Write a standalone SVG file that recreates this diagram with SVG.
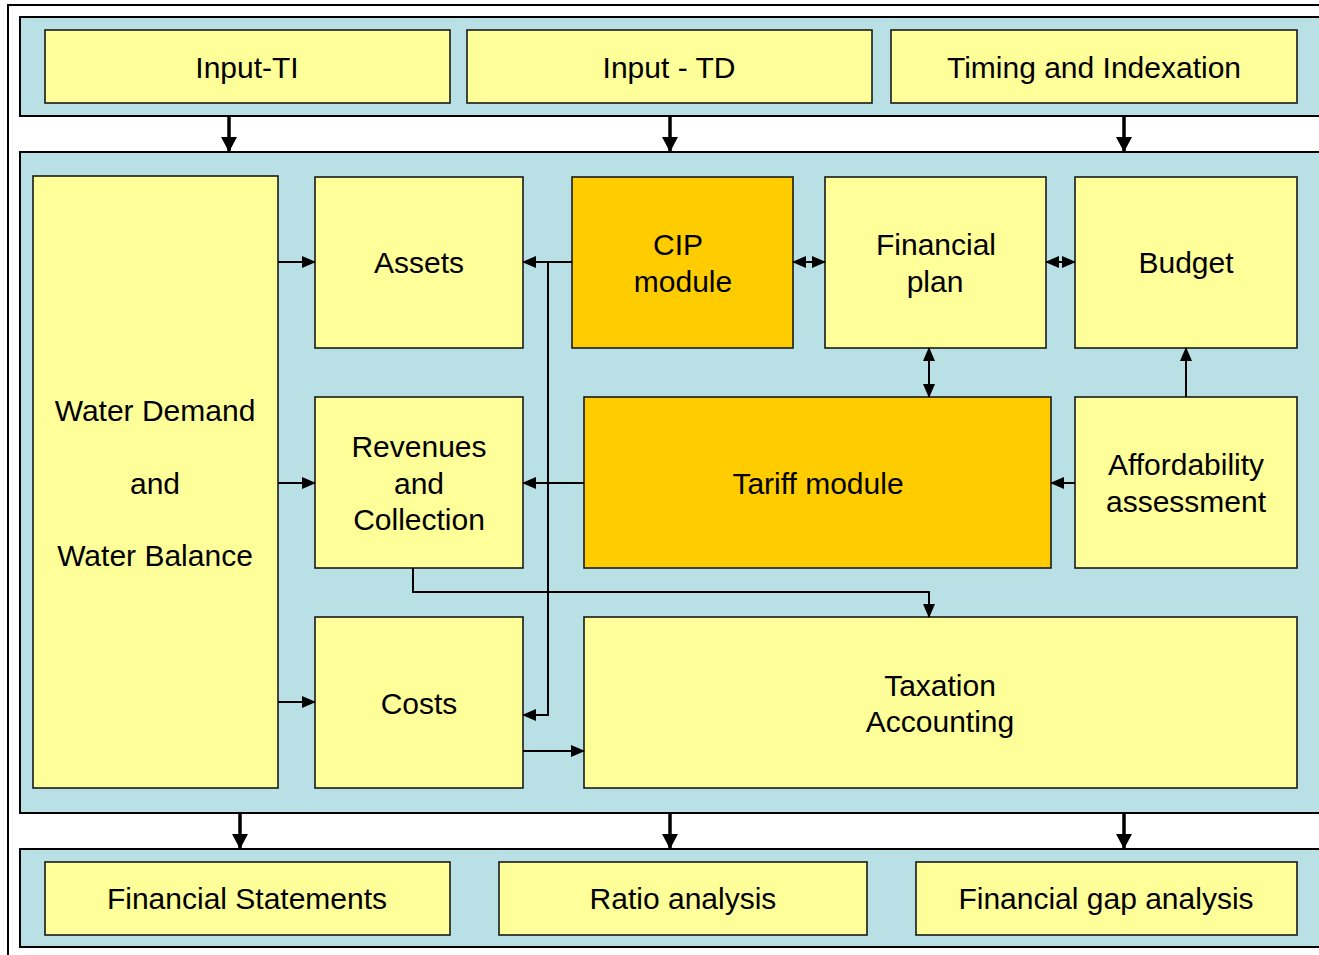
<svg xmlns="http://www.w3.org/2000/svg" width="1319" height="955" viewBox="0 0 1319 955">
<defs>
<style>
.panel{fill:#B9E0E4;stroke:#000;stroke-width:2}
.box{fill:#FFFF99;stroke:#1a1a1a;stroke-width:1.6}
.hot{fill:#FFCC00;stroke:#1a1a1a;stroke-width:1.6}
text{font-family:"Liberation Sans",Arial,sans-serif;font-size:30px;fill:#000;text-anchor:middle}
.c{fill:none;stroke:#000;stroke-width:2}
.big{fill:none;stroke:#000;stroke-width:3.5}
</style>
<marker id="ah" markerUnits="userSpaceOnUse" markerWidth="14" markerHeight="12" refX="13" refY="6" orient="auto-start-reverse" viewBox="0 0 14 12">
<path d="M0,0 L14,6 L0,12 Z" fill="#000"/>
</marker>
<marker id="bh" markerUnits="userSpaceOnUse" markerWidth="15" markerHeight="16" refX="15" refY="8" orient="auto" viewBox="0 0 15 16">
<path d="M0,0 L15,8 L0,16 Z" fill="#000"/>
</marker>
</defs>
<rect x="8" y="5" width="1330" height="970" fill="#fff" stroke="#000" stroke-width="2"/>
<rect class="panel" x="20" y="17" width="1320" height="99"/>
<rect class="panel" x="20" y="152" width="1320" height="661"/>
<rect class="panel" x="20" y="849" width="1320" height="98"/>

<g id="input-ti"><rect class="box" x="45" y="30" width="405" height="73"/><text x="247" y="78">Input-TI</text></g>
<g id="input-td"><rect class="box" x="467" y="30" width="405" height="73"/><text x="669" y="78">Input - TD</text></g>
<g id="timing"><rect class="box" x="891" y="30" width="406" height="73"/><text x="1094" y="78">Timing and Indexation</text></g>

<g id="water"><rect class="box" x="33" y="176" width="245" height="612"/><text x="155" y="421">Water Demand</text><text x="155" y="494">and</text><text x="155" y="566">Water Balance</text></g>
<g id="assets"><rect class="box" x="315" y="177" width="208" height="171"/><text x="419" y="273">Assets</text></g>
<g id="cip"><rect class="hot" x="572" y="177" width="221" height="171"/><text x="678" y="255">CIP</text><text x="683" y="292">module</text></g>
<g id="finplan"><rect class="box" x="825" y="177" width="221" height="171"/><text x="936" y="255">Financial</text><text x="935" y="292">plan</text></g>
<g id="budget"><rect class="box" x="1075" y="177" width="222" height="171"/><text x="1186" y="273">Budget</text></g>
<g id="revenues"><rect class="box" x="315" y="397" width="208" height="171"/><text x="419" y="457">Revenues</text><text x="419" y="494">and</text><text x="419" y="530">Collection</text></g>
<g id="tariff"><rect class="hot" x="584" y="397" width="467" height="171"/><text x="818" y="494">Tariff module</text></g>
<g id="afford"><rect class="box" x="1075" y="397" width="222" height="171"/><text x="1186" y="475">Affordability</text><text x="1186" y="512">assessment</text></g>
<g id="costs"><rect class="box" x="315" y="617" width="208" height="171"/><text x="419" y="714">Costs</text></g>
<g id="taxation"><rect class="box" x="584" y="617" width="713" height="171"/><text x="940" y="696">Taxation</text><text x="940" y="732">Accounting</text></g>

<g id="finstat"><rect class="box" x="45" y="862" width="405" height="73"/><text x="247" y="909">Financial Statements</text></g>
<g id="ratio"><rect class="box" x="499" y="862" width="368" height="73"/><text x="683" y="909">Ratio analysis</text></g>
<g id="gap"><rect class="box" x="916" y="862" width="381" height="73"/><text x="1106" y="909">Financial gap analysis</text></g>

<g id="connectors">
<line class="big" x1="229" y1="116" x2="229" y2="152" marker-end="url(#bh)"/>
<line class="big" x1="670" y1="116" x2="670" y2="152" marker-end="url(#bh)"/>
<line class="big" x1="1124" y1="116" x2="1124" y2="152" marker-end="url(#bh)"/>
<line class="big" x1="240" y1="813" x2="240" y2="849" marker-end="url(#bh)"/>
<line class="big" x1="670" y1="813" x2="670" y2="849" marker-end="url(#bh)"/>
<line class="big" x1="1124" y1="813" x2="1124" y2="849" marker-end="url(#bh)"/>

<line class="c" x1="278" y1="262" x2="315" y2="262" marker-end="url(#ah)"/>
<line class="c" x1="278" y1="483" x2="315" y2="483" marker-end="url(#ah)"/>
<line class="c" x1="278" y1="702" x2="315" y2="702" marker-end="url(#ah)"/>
<line class="c" x1="572" y1="262" x2="523" y2="262" marker-end="url(#ah)"/>
<polyline class="c" points="548,262 548,715 523,715" marker-end="url(#ah)"/>
<line class="c" x1="584" y1="483" x2="523" y2="483" marker-end="url(#ah)"/>
<polyline class="c" points="413,568 413,592 929,592 929,617" marker-end="url(#ah)"/>
<line class="c" x1="523" y1="751" x2="584" y2="751" marker-end="url(#ah)"/>
<line class="c" x1="793" y1="262" x2="825" y2="262" marker-start="url(#ah)" marker-end="url(#ah)"/>
<line class="c" x1="1046" y1="262" x2="1075" y2="262" marker-start="url(#ah)" marker-end="url(#ah)"/>
<line class="c" x1="929" y1="348" x2="929" y2="397" marker-start="url(#ah)" marker-end="url(#ah)"/>
<line class="c" x1="1186" y1="397" x2="1186" y2="348" marker-end="url(#ah)"/>
<line class="c" x1="1075" y1="483" x2="1051" y2="483" marker-end="url(#ah)"/>
</g>
</svg>
